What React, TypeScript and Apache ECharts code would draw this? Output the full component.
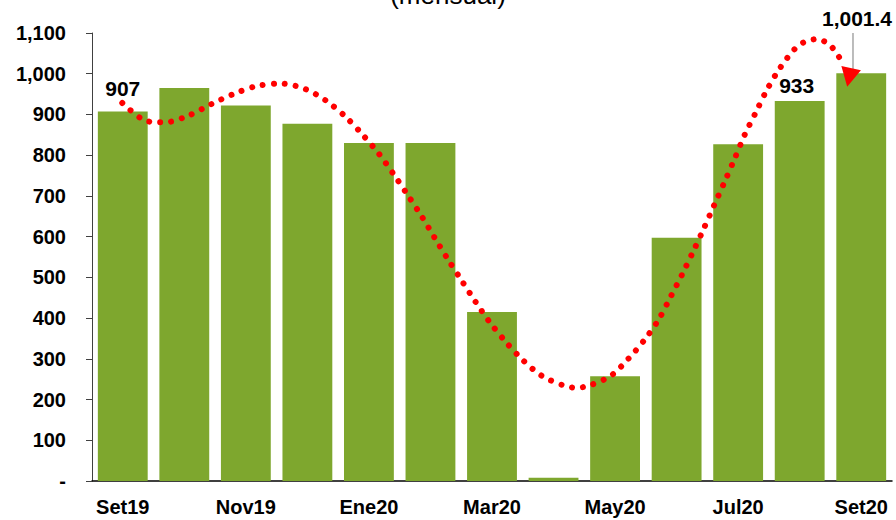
import React, { useEffect, useRef } from "react";
import * as echarts from "echarts";

const categories = ["Set19", "Oct19", "Nov19", "Dic19", "Ene20", "Feb20", "Mar20", "Abr20", "May20", "Jun20", "Jul20", "Ago20", "Set20"];
const values = [907, 965, 922, 877, 830, 830, 415, 8, 257, 597, 827, 933, 1001.4];
const yTicks = { min: 0, max: 1100, interval: 100 };
const labelIdx: Record<number, string> = { 0: "907", 11: "933" };
// trend curve in [category position (0..13), value]
const curve: [number, number][] = [
  [0.492, 928], [0.808, 889], [1.007, 881], [1.202, 881], [1.581, 898], [1.934, 925],
  [2.296, 950], [2.66, 969], [3.055, 976], [3.456, 963], [3.802, 934], [4.116, 895],
  [4.399, 850], [4.664, 803], [4.902, 753], [5.135, 701], [5.357, 650], [5.569, 597],
  [5.785, 544], [6.008, 492], [6.228, 441], [6.462, 390], [6.727, 341], [6.999, 297],
  [7.312, 258], [7.675, 234], [7.876, 229], [8.071, 234], [8.429, 258], [8.715, 300],
  [8.981, 347], [9.214, 398], [9.409, 454], [9.592, 508], [9.771, 564], [9.945, 621],
  [10.112, 678], [10.281, 735], [10.444, 792], [10.606, 850], [10.79, 906], [10.969, 961],
  [11.18, 1014], [11.428, 1062], [11.591, 1079], [11.781, 1085], [11.971, 1073],
  [12.106, 1049], [12.208, 1023],
];
const arrowHead: [number, number] = [12.304, 991];
const leader: [number, number][] = [[12.366, 1100], [12.366, 1005]];
const leaderLabel = "1,001.4";
const title = "(mensual)";

const FONT = "'Liberation Sans', Arial, sans-serif";

export default function App() {
  const ref = useRef<HTMLDivElement>(null);
  useEffect(() => {
    if (!ref.current) return;
    const chart = echarts.init(ref.current, undefined, { renderer: "svg" });
    chart.setOption({
      animation: false,
      backgroundColor: "#ffffff",
      textStyle: { fontFamily: FONT },
      graphic: [
        {
          type: "text",
          left: "center",
          top: -18,
          style: { text: title, fontSize: 26, fontFamily: FONT, fill: "#000" },
        },
      ],
      grid: { left: 92, right: 4, top: 33, bottom: 39 },
      xAxis: [
        {
          type: "category",
          data: categories,
          axisLine: { lineStyle: { color: "#000", width: 1.5 } },
          axisTick: { interval: 0, length: 6, lineStyle: { color: "#000", width: 1.5 } },
          axisLabel: { interval: 1, margin: 16, fontSize: 20, fontWeight: "bold", color: "#000", fontFamily: FONT },
        },
        { type: "value", min: 0, max: 13, show: false },
      ],
      yAxis: {
        type: "value",
        min: yTicks.min,
        max: yTicks.max,
        interval: yTicks.interval,
        splitLine: { show: false },
        axisLine: { show: true, lineStyle: { color: "#404040", width: 1 } },
        axisTick: { show: true, length: 6, lineStyle: { color: "#404040" } },
        axisLabel: {
          margin: 26,
          fontSize: 20,
          fontWeight: "bold",
          color: "#000",
          fontFamily: FONT,
          formatter: (v: number) => (v === 0 ? "-" : v.toLocaleString("en-US")),
        },
      },
      series: [
        {
          type: "bar",
          xAxisIndex: 0,
          barCategoryGap: "19%",
          itemStyle: { color: "#7EA72E" },
          data: values.map((v, i) => ({
            value: v,
            label: labelIdx[i]
              ? {
                  show: true,
                  position: "top",
                  distance: i === 0 ? 13 : 5,
                  offset: i === 11 ? [-3, 0] : [0, 0],
                  formatter: labelIdx[i],
                  fontSize: 21,
                  fontWeight: "bold",
                  color: "#000",
                  fontFamily: FONT,
                }
              : { show: false },
          })),
        },
        {
          type: "line",
          xAxisIndex: 1,
          data: curve,
          smooth: 0.3,
          showSymbol: false,
          symbol: "none",
          lineStyle: { color: "#FF0000", width: 6, type: [0.01, 11], cap: "round" },
          z: 5,
        },
        {
          type: "line",
          xAxisIndex: 1,
          data: leader,
          symbol: "none",
          lineStyle: { color: "#A6A6A6", width: 1.5 },
          z: 4,
        },
        {
          type: "scatter",
          xAxisIndex: 1,
          data: [arrowHead],
          symbol: "triangle",
          symbolSize: [20, 19],
          symbolRotate: 168,
          itemStyle: { color: "#FF0000", opacity: 1 },
          z: 6,
        },
        {
          type: "scatter",
          xAxisIndex: 1,
          data: [leader[0]],
          clip: false,
          symbolSize: 0.1,
          itemStyle: { color: "#A6A6A6", opacity: 1 },
          label: {
            show: true,
            position: "top",
            distance: 4,
            offset: [4, 0],
            formatter: leaderLabel,
            fontSize: 21,
            fontWeight: "bold",
            color: "#000",
            opacity: 1,
            fontFamily: FONT,
          },
        },
      ],
    });
    return () => chart.dispose();
  }, []);
  return <div ref={ref} style={{ position: "fixed", left: 0, top: 0, width: 896, height: 520 }} />;
}
